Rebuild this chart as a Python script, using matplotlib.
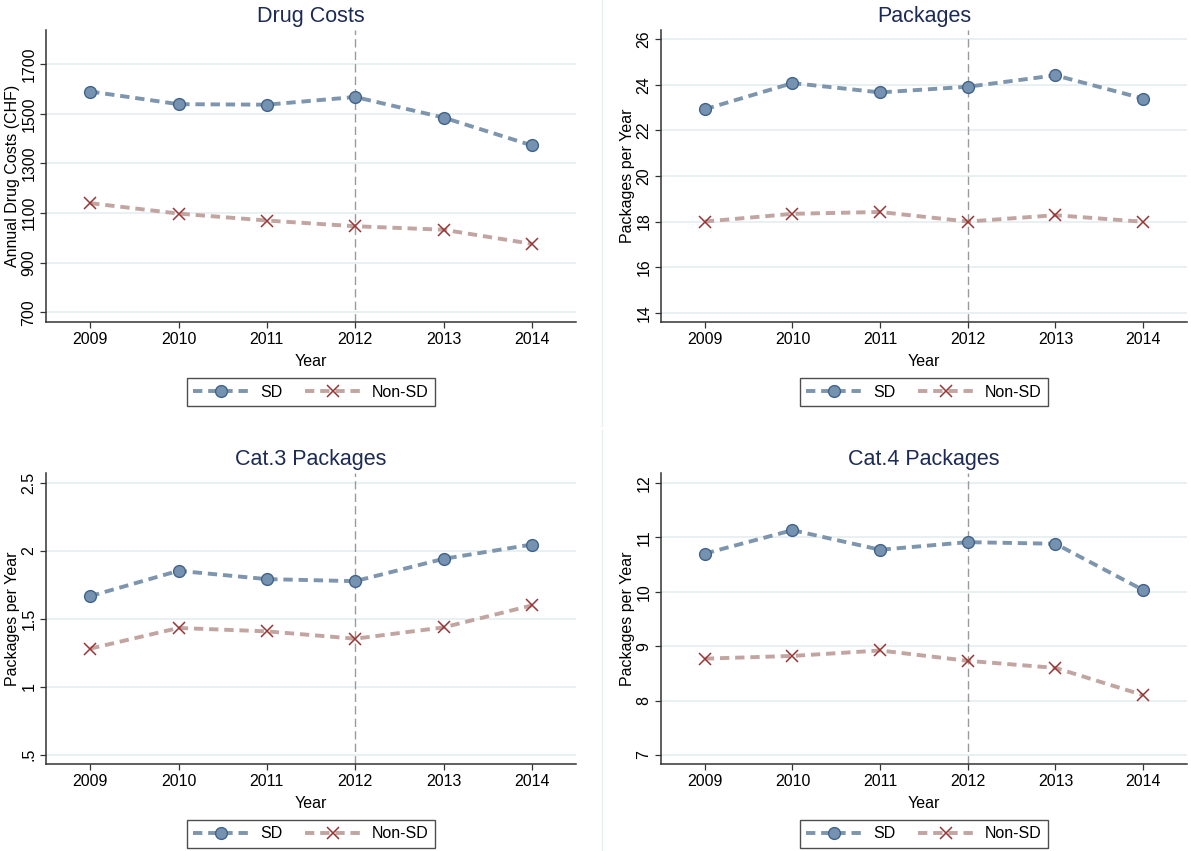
import matplotlib
matplotlib.use("Agg")
import matplotlib.pyplot as plt
from matplotlib.lines import Line2D

plt.rcParams['font.family'] = ['Liberation Sans', 'DejaVu Sans']

years = [2009, 2010, 2011, 2012, 2013, 2014]

# panel data
cost_sd = [1590, 1539, 1537, 1568, 1485, 1373]
cost_non = [1140, 1098, 1070, 1047, 1033, 976]

pack_sd = [22.93, 24.08, 23.67, 23.92, 24.42, 23.40]
pack_non = [18.00, 18.34, 18.42, 18.00, 18.28, 17.99]

cat3_sd = [1.666, 1.852, 1.791, 1.776, 1.940, 2.045]
cat3_non = [1.280, 1.432, 1.407, 1.353, 1.436, 1.598]

cat4_sd = [10.70, 11.13, 10.77, 10.91, 10.88, 10.03]
cat4_non = [8.77, 8.82, 8.92, 8.73, 8.60, 8.10]

titles = ["Drug Costs", "Packages", "Cat.3 Packages", "Cat.4 Packages"]
ylabels = ["Annual Drug Costs (CHF)", "Packages per Year", "Packages per Year", "Packages per Year"]
yticks = [[700, 900, 1100, 1300, 1500, 1700],
          [14, 16, 18, 20, 22, 24, 26],
          [0.5, 1, 1.5, 2, 2.5],
          [7, 8, 9, 10, 11, 12]]
yticklabels = [["700", "900", "1100", "1300", "1500", "1700"],
               ["14", "16", "18", "20", "22", "24", "26"],
               [".5", "1", "1.5", "2", "2.5"],
               ["7", "8", "9", "10", "11", "12"]]
ylims = [(661, 1838), (13.59, 26.41), (0.432, 2.571), (6.835, 12.18)]
series = [(cost_sd, cost_non), (pack_sd, pack_non), (cat3_sd, cat3_non), (cat4_sd, cat4_non)]

SD_LINE = "#7d95ad"
SD_FACE = "#7592b0"
SD_EDGE = "#41628a"
NON_LINE = "#c2a5a1"
NON_MARK = "#9b3535"
GRID = "#e4eef0"
TITLE = "#1c2b55"

W, H = 1191, 851
fig = plt.figure(figsize=(W / 100, H / 100), dpi=100)

# axes boxes in pixels: left, top, right, bottom
boxes = [(46, 30, 576, 322), (661, 30, 1187, 322),
         (46, 473, 576, 764), (661, 473, 1187, 764)]

# faint separators between the sub-graphs
fig.add_artist(Line2D([601.5 / W] * 2, [1 - 0 / H, 1 - 426 / H], color="#e6eef0", lw=1))
fig.add_artist(Line2D([601.5 / W] * 2, [1 - 430 / H, 0], color="#e6eef0", lw=1))

for i, (l, t, r, b) in enumerate(boxes):
    ax = fig.add_axes([l / W, 1 - b / H, (r - l) / W, (b - t) / H])
    sd, non = series[i]

    ax.axvline(2012, color="#9a9a9a", lw=1, ls=(0, (6, 3)), zorder=1)
    ax.plot(years, sd, color=SD_LINE, lw=2.8, dashes=(2.4, 1.5), marker="o",
            markersize=8.5, markerfacecolor=SD_FACE, markeredgecolor=SD_EDGE,
            markeredgewidth=1, label="SD", zorder=3)
    ax.plot(years, non, color=NON_LINE, lw=2.8, dashes=(2.4, 1.5), marker="x",
            markersize=8.5, markeredgecolor=NON_MARK, markeredgewidth=1.1,
            label="Non-SD", zorder=3)

    ax.set_xlim(2008.5, 2014.5)
    ax.set_ylim(*ylims[i])
    ax.set_xticks(years)
    ax.set_xticklabels([str(y) for y in years])
    ax.set_yticks(yticks[i])
    ax.set_yticklabels(yticklabels[i], rotation=90, va="center")

    for v in yticks[i]:
        ax.axhline(v, color=GRID, lw=1.2, zorder=0)

    for s in ["top", "right"]:
        ax.spines[s].set_visible(False)
    for s in ["left", "bottom"]:
        ax.spines[s].set_color("#333333")
        ax.spines[s].set_linewidth(1.1)
    ax.tick_params(axis="both", direction="out", length=4, width=0.9,
                   colors="#333333", labelcolor="black", labelsize=11.5, pad=3)

    ax.set_title(titles[i], fontsize=15.5, color=TITLE, pad=6)
    ax.set_xlabel("Year", fontsize=11.5, labelpad=5)
    ax.set_ylabel(ylabels[i], fontsize=11.5, labelpad=1)

    leg = ax.legend(loc="center", bbox_to_anchor=(0.5, -0.24), ncol=2,
                    fontsize=11.5, frameon=True, fancybox=False,
                    handlelength=3.5, handletextpad=0.7, columnspacing=1.4,
                    borderpad=0.4, numpoints=1)
    leg.get_frame().set_edgecolor("#222222")
    leg.get_frame().set_linewidth(1.0)

fig.savefig("out.png", dpi=100)
